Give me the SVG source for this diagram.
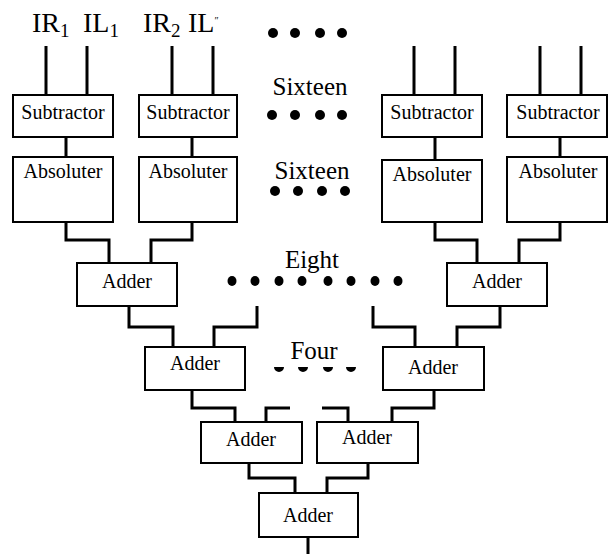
<svg xmlns="http://www.w3.org/2000/svg" width="609" height="558" viewBox="0 0 609 558">
<style>
.box{fill:#fff;stroke:#000;stroke-width:2}
.lbl{font-family:"Liberation Serif","Times New Roman",serif;font-size:20px;fill:#000;text-anchor:middle}
.big{font-family:"Liberation Serif","Times New Roman",serif;font-size:25px;fill:#000}
.in{font-family:"Liberation Serif","Times New Roman",serif;font-size:28px;fill:#000}
.sub{font-size:19px}
.wire{fill:none;stroke:#000;stroke-width:3}
.dot{fill:#000}
</style>
<rect width="609" height="558" fill="#fff"/>

<g id="inputs">
<text class="in" x="32" y="32">IR<tspan class="sub" dy="5">1</tspan></text>
<text class="in" x="83" y="32">IL<tspan class="sub" dy="5">1</tspan></text>
<text class="in" x="143" y="32">IR<tspan class="sub" dy="5">2</tspan></text>
<text class="in" x="188" y="32">IL<tspan font-size="10" dy="-8">″</tspan></text>
</g>

<g id="connectors">
<path class="wire" d="M46,46V95M87,46V95M172,46V95M213,46V95M414,46V95M455,46V95M540,46V95M581,46V95"/>
<path class="wire" d="M66,137V157M192,137V157M435,137V160M560,137V157"/>
<path class="wire" d="M66,222V240H109V263M192,222V240H151V263"/>
<path class="wire" d="M435,222V240H477V263M560,222V240H519V263"/>
<path class="wire" d="M129,306V327H173V347M257,306V327H214V347"/>
<path class="wire" d="M500,306V327H457V347M373,306V327H415V347"/>
<path class="wire" d="M192,390V408H235V422M290,408H266V422"/>
<path class="wire" d="M434,390V408H392V422M322,408H348V422"/>
<path class="wire" d="M249,463V478H295V493M368,463V478H327V493"/>
<path class="wire" d="M308,537V554"/>
</g>

<g id="sub1"><rect class="box" x="13" y="95" width="100" height="42"/><text class="lbl" x="63" y="119">Subtractor</text></g>
<g id="sub2"><rect class="box" x="139" y="95" width="98" height="42"/><text class="lbl" x="188" y="119">Subtractor</text></g>
<g id="sub3"><rect class="box" x="382" y="95" width="100" height="42"/><text class="lbl" x="432" y="119">Subtractor</text></g>
<g id="sub4"><rect class="box" x="507" y="95" width="100" height="42"/><text class="lbl" x="558" y="119">Subtractor</text></g>

<g id="abs1"><rect class="box" x="13" y="157" width="100" height="65"/><text class="lbl" x="63" y="178">Absoluter</text></g>
<g id="abs2"><rect class="box" x="139" y="157" width="98" height="65"/><text class="lbl" x="188" y="178">Absoluter</text></g>
<g id="abs3"><rect class="box" x="382" y="160" width="100" height="62"/><text class="lbl" x="432" y="181">Absoluter</text></g>
<g id="abs4"><rect class="box" x="507" y="157" width="100" height="65"/><text class="lbl" x="558" y="178">Absoluter</text></g>

<g id="add1"><rect class="box" x="77" y="263" width="100" height="43"/><text class="lbl" x="127" y="288">Adder</text></g>
<g id="add2"><rect class="box" x="447" y="263" width="100" height="43"/><text class="lbl" x="497" y="288">Adder</text></g>
<g id="add3"><rect class="box" x="145" y="347" width="100" height="43"/><text class="lbl" x="195" y="370">Adder</text></g>
<g id="add4"><rect class="box" x="383" y="347" width="101" height="43"/><text class="lbl" x="433" y="374">Adder</text></g>
<g id="add5"><rect class="box" x="201" y="422" width="101" height="41"/><text class="lbl" x="251" y="446">Adder</text></g>
<g id="add6"><rect class="box" x="317" y="422" width="101" height="41"/><text class="lbl" x="367" y="444">Adder</text></g>
<g id="add7"><rect class="box" x="259" y="493" width="99" height="44"/><text class="lbl" x="308" y="522">Adder</text></g>

<g id="labels">
<text class="big" x="310" y="95" text-anchor="middle">Sixteen</text>
<text class="big" x="312" y="179" text-anchor="middle">Sixteen</text>
<text class="big" x="312" y="268" text-anchor="middle">Eight</text>
<text class="big" x="314" y="359" text-anchor="middle">Four</text>
</g>

<g id="dots">
<circle class="dot" cx="273" cy="33" r="5"/><circle class="dot" cx="295" cy="33" r="5"/><circle class="dot" cx="320" cy="33" r="5"/><circle class="dot" cx="342" cy="33" r="5"/>
<circle class="dot" cx="272" cy="115" r="5"/><circle class="dot" cx="295" cy="115" r="5"/><circle class="dot" cx="320" cy="115" r="5"/><circle class="dot" cx="342" cy="115" r="5"/>
<circle class="dot" cx="275" cy="191" r="5"/><circle class="dot" cx="298" cy="191" r="5"/><circle class="dot" cx="322" cy="191" r="5"/><circle class="dot" cx="345" cy="191" r="5"/>
<ellipse class="dot" cx="232" cy="281" rx="4.5" ry="5"/><ellipse class="dot" cx="255" cy="281" rx="4.5" ry="5"/><ellipse class="dot" cx="279" cy="281" rx="4.5" ry="5"/><ellipse class="dot" cx="302" cy="281" rx="4.5" ry="5"/><ellipse class="dot" cx="328" cy="281" rx="4.5" ry="5"/><ellipse class="dot" cx="351" cy="281" rx="4.5" ry="5"/><ellipse class="dot" cx="375" cy="281" rx="4.5" ry="5"/><ellipse class="dot" cx="398" cy="281" rx="4.5" ry="5"/>
<path class="dot" d="M274,367a5,5 0 0 0 10,0zM298,367a5,5 0 0 0 10,0zM323,367a5,5 0 0 0 10,0zM346,367a5,5 0 0 0 10,0z"/>
</g>
</svg>
